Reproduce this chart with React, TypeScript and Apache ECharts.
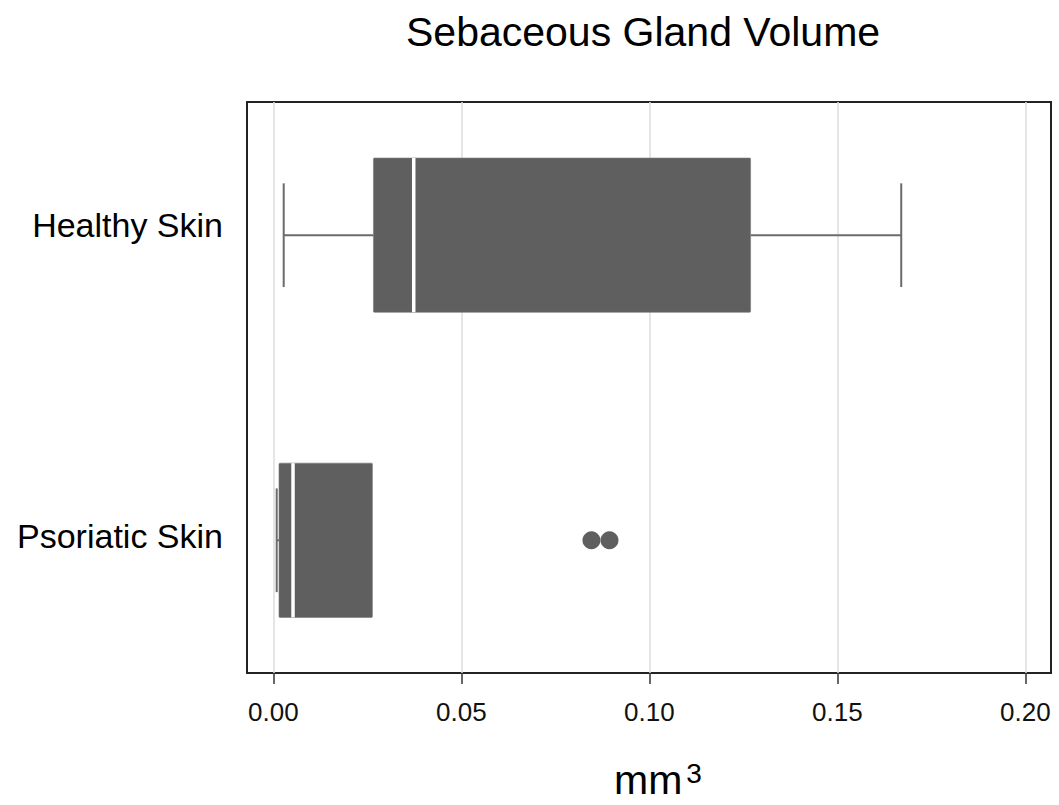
import React, { useEffect, useRef } from "react";
import * as echarts from "echarts";

const categories = ["Healthy Skin", "Psoriatic Skin"];
const lowWhisker = [0.00274, 0.00088];
const q1 = [0.02661, 0.00149];
const median = [0.03733, 0.00522];
const q3 = [0.12693, 0.02634];
const highWhisker = [0.167, 0.02634];
const outlierValues = [0.0846, 0.0894];
const outlierGroup = [2, 2];
const xTicks = [0, 0.05, 0.1, 0.15, 0.2];

const FONT = "Liberation Sans, Arial, Helvetica, sans-serif";
const BOX = "#5f5f5f";
const WHISK = "#6b6b6b";
const BOX_HALF = 0.2529;
const CAP_HALF = 0.17;
const LABEL_NUDGE = [0.034, 0.013];

export default function App() {
  const ref = useRef<HTMLDivElement>(null);
  useEffect(() => {
    if (!ref.current) return;
    const chart = echarts.init(ref.current, null, { renderer: "svg" });
    const boxData = categories.map((_, i) => [i + 1, lowWhisker[i], q1[i], median[i], q3[i], highWhisker[i]]);
    const outData = outlierValues.map((v, i) => [v, outlierGroup[i]]);
    chart.setOption({
      animation: false,
      backgroundColor: "#ffffff",
      title: {
        text: "Sebaceous Gland Volume",
        left: 401,
        top: 6,
        textStyle: { fontFamily: FONT, fontSize: 41, fontWeight: "normal", color: "#000" },
      },
      grid: {
        left: 247,
        right: 8,
        top: 102,
        bottom: 131,
        show: true,
        borderColor: "#222",
        borderWidth: 2,
        backgroundColor: "transparent",
      },
      xAxis: {
        type: "value",
        min: -0.00702,
        max: 0.20684,
        axisLine: { show: false },
        axisTick: { show: true, customValues: xTicks, length: 11, lineStyle: { color: "#333", width: 1.5 } },
        axisLabel: {
          customValues: xTicks,
          formatter: (v: number) => v.toFixed(2),
          fontFamily: FONT,
          fontSize: 26,
          color: "#111",
          margin: 26,
        },
        splitLine: { show: true, lineStyle: { color: "#dcdcdc", width: 1.5 } },
        name: "{a|mm}{b|3}",
        nameLocation: "middle",
        nameGap: 86,
        nameTextStyle: {
          padding: [0, 0, 0, 18],
          rich: {
            a: { fontFamily: FONT, fontSize: 41, color: "#000" },
            b: { fontFamily: FONT, fontSize: 28, color: "#000", verticalAlign: "top", padding: [0, 0, 0, 4] },
          },
        },
      },
      yAxis: {
        type: "value",
        min: 0.5634,
        max: 2.435,
        inverse: true,
        axisLine: { show: false },
        axisTick: { show: false },
        splitLine: { show: false },
        axisLabel: {
          customValues: categories.map((_, i) => i + 1 - LABEL_NUDGE[i]),
          formatter: (v: number) => categories[Math.round(v) - 1],
          fontFamily: FONT,
          fontSize: 34,
          color: "#000",
          margin: 24,
        },
      },
      series: [
        {
          type: "custom",
          data: boxData,
          encode: { x: [1, 2, 3, 4, 5], y: 0 },
          renderItem: (params: any, api: any) => {
            const y = api.value(0);
            const lo = api.value(1);
            const a = api.value(2);
            const m = api.value(3);
            const b = api.value(4);
            const hi = api.value(5);
            const pLo = api.coord([lo, y]);
            const pA = api.coord([a, y]);
            const pM = api.coord([m, y]);
            const pB = api.coord([b, y]);
            const pHi = api.coord([hi, y]);
            const top = api.coord([a, y - BOX_HALF])[1];
            const bot = api.coord([a, y + BOX_HALF])[1];
            const cTop = api.coord([a, y - CAP_HALF])[1];
            const cBot = api.coord([a, y + CAP_HALF])[1];
            const ls = { stroke: WHISK, lineWidth: 2 };
            const children: any[] = [];
            if (lo < a) {
              children.push({ type: "line", shape: { x1: pLo[0], y1: pLo[1], x2: pA[0], y2: pA[1] }, style: ls });
              children.push({ type: "line", shape: { x1: pLo[0], y1: cTop, x2: pLo[0], y2: cBot }, style: ls });
            }
            if (hi > b) {
              children.push({ type: "line", shape: { x1: pB[0], y1: pB[1], x2: pHi[0], y2: pHi[1] }, style: ls });
              children.push({ type: "line", shape: { x1: pHi[0], y1: cTop, x2: pHi[0], y2: cBot }, style: ls });
            }
            children.push({
              type: "rect",
              shape: { x: pA[0], y: top, width: pB[0] - pA[0], height: bot - top, r: 1 },
              style: { fill: BOX, stroke: "#7a7a7a", lineWidth: 0.6 },
            });
            children.push({
              type: "line",
              shape: { x1: pM[0], y1: top, x2: pM[0], y2: bot },
              style: { stroke: "#ffffff", lineWidth: 3.5 },
            });
            return { type: "group", children };
          },
          z: 3,
        },
        {
          type: "scatter",
          data: outData,
          symbol: "circle",
          symbolSize: 18,
          itemStyle: { color: BOX, opacity: 1 },
          z: 4,
        },
      ],
    });
    return () => chart.dispose();
  }, []);
  return <div ref={ref} style={{ position: "absolute", left: 0, top: 0, width: 1059, height: 805 }} />;
}
